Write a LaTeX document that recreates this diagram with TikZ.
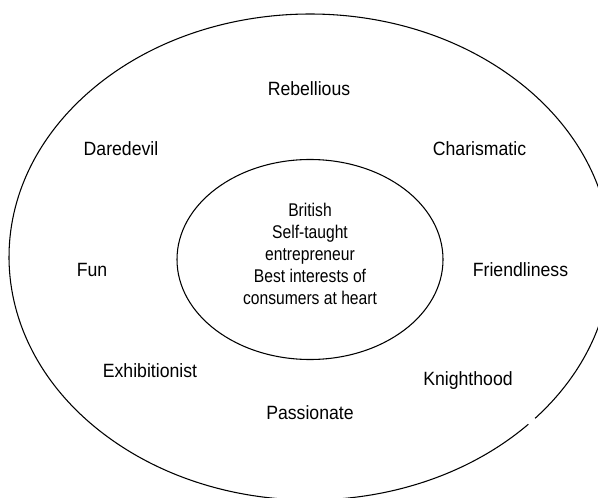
\documentclass[tikz,border=0pt]{standalone}
\usepackage{fontspec}
\setmainfont[FakeStretch=0.92]{Liberation Sans}
\newfontfamily\corefont[FakeStretch=0.85]{Liberation Sans}
\usetikzlibrary{shapes.geometric}
\begin{document}
\begin{tikzpicture}[x=0.75pt,y=-0.75pt,
  trait/.style={font=\fontsize{14.4}{16}\selectfont, inner sep=0pt},
  core/.style={font=\corefont\fontsize{13.8}{16.5}\selectfont, align=center, inner sep=0pt},
  ring/.style={draw=black, line width=0.8pt}]
  \useasboundingbox (0,0) rectangle (598,498);
  \clip (0,0) rectangle (598,498);
  \fill[white] (0,0) rectangle (598,498);
  % outer ellipse, with a small break on the lower right
  \draw[ring] (310,257) ++(-41.6:225.75pt and 182.25pt)
    arc[start angle=-41.6, end angle=316.5, x radius=225.75pt, y radius=182.25pt];
  % inner ellipse
  \node[ring, ellipse, minimum width=199.5pt, minimum height=150pt, inner sep=0pt] (centre) at (310,259.5) {};
  \node[core] (facts) at (310,254) {British\\Self-taught\\entrepreneur\\Best interests of\\consumers at heart};
  % traits around the core
  \node[trait] (rebellious) at (309,89) {Rebellious};
  \node[trait] (daredevil) at (121,149) {Daredevil};
  \node[trait] (charismatic) at (479.5,149) {Charismatic};
  \node[trait] (fun) at (92,270) {Fun};
  \node[trait] (friendliness) at (520.5,270) {Friendliness};
  \node[trait] (exhibitionist) at (150,371) {Exhibitionist};
  \node[trait] (knighthood) at (468,381) {Knighthood};
  \node[trait] (passionate) at (310,413) {Passionate};
\end{tikzpicture}
\end{document}
